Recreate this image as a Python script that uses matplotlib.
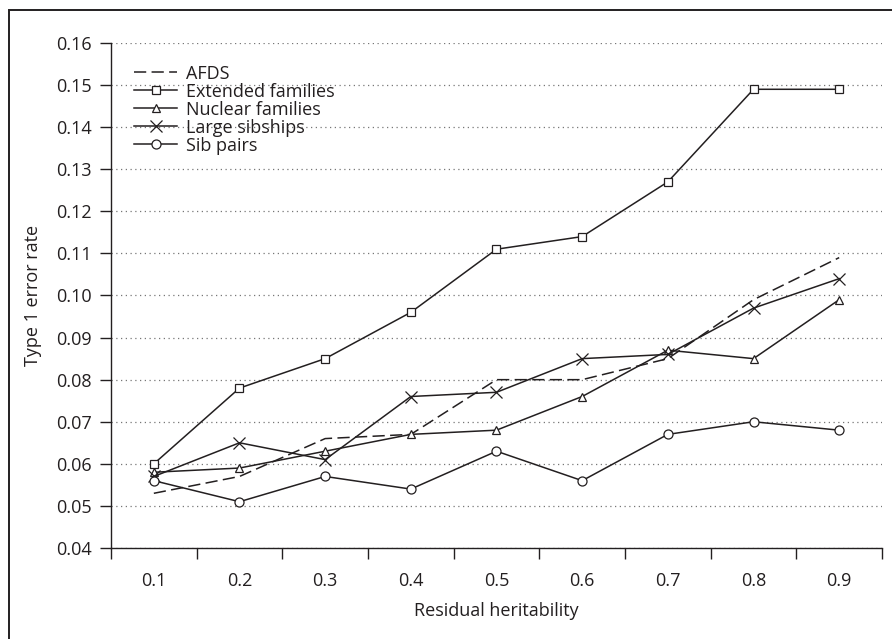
import matplotlib
matplotlib.use("Agg")
import matplotlib.pyplot as plt
from matplotlib.patches import Rectangle

# residual heritability categories
heritability = ["0.1", "0.2", "0.3", "0.4", "0.5", "0.6", "0.7", "0.8", "0.9"]

afds = [0.053, 0.057, 0.066, 0.067, 0.080, 0.080, 0.085, 0.099, 0.109]
extended_families = [0.060, 0.078, 0.085, 0.096, 0.111, 0.114, 0.127, 0.149, 0.149]
nuclear_families = [0.058, 0.059, 0.063, 0.067, 0.068, 0.076, 0.087, 0.085, 0.099]
large_sibships = [0.057, 0.065, 0.061, 0.076, 0.077, 0.085, 0.086, 0.097, 0.104]
sib_pairs = [0.056, 0.051, 0.057, 0.054, 0.063, 0.056, 0.067, 0.070, 0.068]

y_ticks = [0.04, 0.05, 0.06, 0.07, 0.08, 0.09, 0.10, 0.11, 0.12, 0.13, 0.14, 0.15, 0.16]

INK = "#231f20"
FS = 13
plt.rcParams["font.family"] = ["Open Sans", "DejaVu Sans"]
plt.rcParams["font.size"] = FS

fig = plt.figure(figsize=(8.92, 6.39), dpi=100)
ax = fig.add_axes([111 / 892, 1 - 548 / 639, 771 / 892, 505 / 639])

# outer frame (only the top and left edges are inside the picture)
fig.add_artist(Rectangle((8.5 / 892, -0.2), 1.2, 1.2 - 10 / 639,
                         transform=fig.transFigure, fill=False,
                         edgecolor=INK, lw=1.4))

x = list(range(len(heritability)))
common = dict(color=INK, lw=1.1, markerfacecolor="white", markeredgecolor=INK,
              markeredgewidth=0.9)

ax.plot(x, afds, linestyle=(0, (8, 3.5)), label="AFDS", **common)
ax.plot(x, extended_families, marker="s", markersize=6, label="Extended families", **common)
ax.plot(x, nuclear_families, marker="^", markersize=6, label="Nuclear families", **common)
ax.plot(x, large_sibships, marker="x", markersize=8, label="Large sibships", **common)
ax.plot(x, sib_pairs, marker="o", markersize=6.5, label="Sib pairs", **common)

ax.set_xlim(-0.5, len(heritability) - 0.5)
ax.set_ylim(0.04, 0.16)

# category axis: tick marks between categories, labels centred
ax.set_xticks([i - 0.5 for i in range(len(heritability) + 1)])
ax.set_xticklabels([])
ax.set_xticks(x, minor=True)
ax.set_xticklabels(heritability, minor=True)
ax.tick_params(axis="x", which="major", direction="out", length=8, width=1, color=INK)
ax.tick_params(axis="x", which="minor", length=0, pad=17, labelsize=FS, labelcolor=INK)

ax.set_yticks(y_ticks)
ax.set_yticklabels([f"{v:.2f}" for v in y_ticks])
ax.tick_params(axis="y", direction="out", length=8, width=1, color=INK, pad=6,
               labelsize=FS, labelcolor=INK)

ax.grid(axis="y", linestyle=(0, (1, 2.8)), color="#777777", lw=0.9)
ax.set_axisbelow(True)

for side in ["top", "right"]:
    ax.spines[side].set_visible(False)
for side in ["left", "bottom"]:
    ax.spines[side].set_color(INK)
    ax.spines[side].set_linewidth(1)

ax.set_xlabel("Residual heritability", fontsize=FS, color=INK)
ax.xaxis.set_label_coords(0.5, -0.106)
ax.set_ylabel("Type 1 error rate", fontsize=FS, color=INK)
ax.yaxis.set_label_coords(-0.09, 0.5)

ax.legend(loc="upper left", bbox_to_anchor=(0.03, 0.957), frameon=False,
          handlelength=2.4, handletextpad=0.5, labelspacing=0.0,
          borderpad=0, borderaxespad=0, fontsize=FS, labelcolor=INK)

fig.savefig("out.png", dpi=100)
